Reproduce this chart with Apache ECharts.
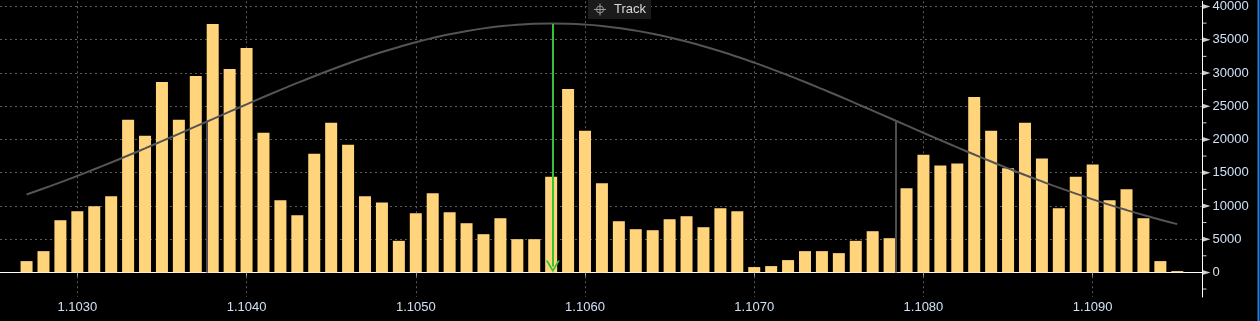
<!DOCTYPE html>
<html><head><meta charset="utf-8">
<script src="https://cdn.jsdelivr.net/npm/echarts@6/dist/echarts.min.js"></script>
<style>html,body{margin:0;padding:0;background:#000;}#c{width:1260px;height:321px;}</style>
</head><body><div id="c"></div>
<script>
// price levels (x), traded volume per level (bars), fitted distribution curve (line)
const prices = [1.1027,1.1028,1.1029,1.1030,1.1031,1.1032,1.1033,1.1034,1.1035,1.1036,
  1.1037,1.1038,1.1039,1.1040,1.1041,1.1042,1.1043,1.1044,1.1045,1.1046,
  1.1047,1.1048,1.1049,1.1050,1.1051,1.1052,1.1053,1.1054,1.1055,1.1056,
  1.1057,1.1058,1.1059,1.1060,1.1061,1.1062,1.1063,1.1064,1.1065,1.1066,
  1.1067,1.1068,1.1069,1.1070,1.1071,1.1072,1.1073,1.1074,1.1075,1.1076,
  1.1077,1.1078,1.1079,1.1080,1.1081,1.1082,1.1083,1.1084,1.1085,1.1086,
  1.1087,1.1088,1.1089,1.1090,1.1091,1.1092,1.1093,1.1094,1.1095];
const volumes = [1700,3200,7850,9200,9950,11450,22950,20550,28650,22950,
  29550,37350,30600,33750,21000,10850,8600,17850,22500,19200,
  11450,10500,4750,8900,11900,9050,7400,5750,8150,5000,
  5000,14400,27600,21300,13400,7700,6500,6350,8000,8450,
  6800,9650,9200,800,950,1850,3200,3200,2900,4750,
  6200,5150,12650,17700,16100,16400,26400,21300,15650,22500,
  17150,9650,14400,16250,10850,12500,8150,1700,200];
const fitCurve = [11725,12620,13550,14515,15510,16535,17585,18655,19745,20845,
  21955,23070,24180,25280,26380,27450,28500,29515,30490,31430,
  32320,33150,33920,34630,35265,35830,36310,36710,37025,37260,
  37400,37450,37410,37280,37065,36760,36370,35900,35350,34720,
  34025,33260,32435,31555,30625,29650,28645,27600,26530,25435,
  24335,23225,22110,21000,19895,18805,17730,16680,15655,14650,
  13685,12750,11850,10985,10160,9375,8630,7925,7260];
const yTickValues = [0,5000,10000,15000,20000,25000,30000,35000,40000];
const yMinorTickValues = [-2500,2500,7500,12500,17500,22500,27500,32500,37500];
const meanPrice = 1.10581, meanPeak = 37350, arrowTip = 900;
const sigmaLow = 1.103766, sigmaHigh = 1.107838, sigmaLevel = 22710;
const xMin = 1.102543, xMax = 1.109649, yMin = -3700, yMax = 40794;
const trackLabel = 'Track';

const labelColor = '#cfe0f5';
const gridLine = {show: true, showMinLine: false, showMaxLine: false,
  lineStyle: {color: '#5c5c5c', type: [2, 3], width: 1}};

const chart = echarts.init(document.getElementById('c'));
chart.setOption({
  backgroundColor: '#000',
  animation: false,
  grid: {left: 0, right: 57.5, top: 0, bottom: 24},
  xAxis: {
    type: 'value', min: xMin, max: xMax,
    axisLine: {show: true, lineStyle: {color: '#fff', width: 1}},
    axisTick: {show: true, length: 4, lineStyle: {color: '#999'}},
    axisLabel: {color: labelColor, fontSize: 13, fontFamily: 'Liberation Sans', margin: 4,
      showMinLabel: false, showMaxLabel: false, formatter: v => v.toFixed(4)},
    splitLine: gridLine
  },
  yAxis: {
    type: 'value', position: 'right', min: yMin, max: yMax, splitNumber: 9,
    axisLine: {show: true, lineStyle: {color: '#fff', width: 1}},
    axisTick: {show: false},
    axisLabel: {color: labelColor, fontSize: 13, fontFamily: 'Liberation Sans', margin: 10,
      showMinLabel: false, showMaxLabel: false, formatter: v => String(v)},
    splitLine: gridLine
  },
  series: [
    {type: 'bar', data: prices.map((p, i) => [p, volumes[i]]), barWidth: 12,
      itemStyle: {color: '#ffd47a'}, z: 2, silent: true},
    {type: 'line', data: prices.map((p, i) => [p, fitCurve[i]]), smooth: true,
      symbol: 'none', lineStyle: {color: '#545454', width: 2}, z: 3, silent: true,
      markLine: {silent: true, symbol: 'none', label: {show: false},
        lineStyle: {color: '#4e4e4e', width: 2, type: 'solid'},
        data: [
          [{coord: [sigmaLow, 0]}, {coord: [sigmaLow, sigmaLevel]}],
          [{coord: [sigmaHigh, 0]}, {coord: [sigmaHigh, sigmaLevel]}]
        ]}},
    {type: 'line', data: [], z: 5, silent: true,
      markLine: {silent: true, label: {show: false},
        symbol: ['none', 'path://M0,12 L7,0 L14,12 L12,12 L7,3.5 L2,12 Z'],
        symbolSize: [14, 12],
        lineStyle: {color: '#38c038', width: 2, type: 'solid'},
        itemStyle: {color: '#38c038'},
        data: [[{coord: [meanPrice, meanPeak]}, {coord: [meanPrice, arrowTip]}]]}},
    {type: 'scatter', data: yTickValues.map(v => [xMax, v]), clip: false, silent: true,
      symbol: 'path://M0,0 L8,2.5 L0,5 Z', symbolSize: [8, 5], symbolOffset: [4, 0],
      itemStyle: {color: '#fff'}, z: 6},
    {type: 'scatter', data: yMinorTickValues.map(v => [xMax, v]), clip: false, silent: true,
      symbol: 'rect', symbolSize: [4, 1], symbolOffset: [2, 0],
      itemStyle: {color: '#fff'}, z: 6}
  ],
  graphic: [
    {type: 'rect', shape: {x: 588, y: 0, width: 63, height: 19}, style: {fill: '#1b1b1b'}, z: 10},
    {type: 'circle', shape: {cx: 600, cy: 9.5, r: 3.5}, style: {fill: 'none', stroke: '#999', lineWidth: 1}, z: 11},
    {type: 'line', shape: {x1: 594, y1: 9.5, x2: 606, y2: 9.5}, style: {stroke: '#999', lineWidth: 1}, z: 11},
    {type: 'line', shape: {x1: 600, y1: 3.5, x2: 600, y2: 15.5}, style: {stroke: '#999', lineWidth: 1}, z: 11},
    {type: 'text', x: 614, y: 9.5, style: {text: trackLabel, fill: '#d8d8d8',
      font: '13px "Liberation Sans"', verticalAlign: 'middle'}, z: 11},
    {type: 'line', shape: {x1: 1258.5, y1: 0, x2: 1258.5, y2: 321}, style: {stroke: '#1f80e0', lineWidth: 2}, z: 11}
  ]
});
</script></body></html>
